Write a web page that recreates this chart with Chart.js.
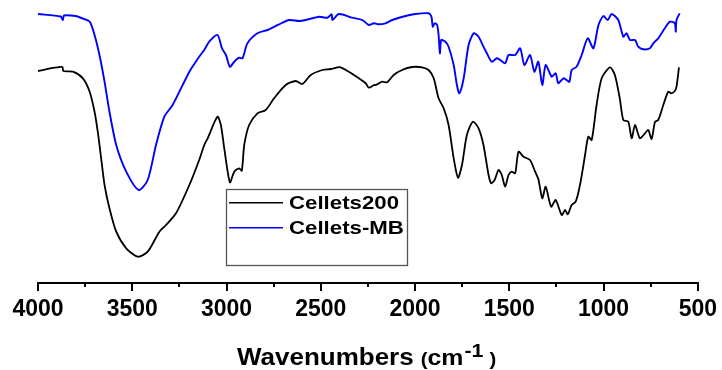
<!DOCTYPE html>
<html>
<head>
<meta charset="utf-8">
<script src="https://cdn.jsdelivr.net/npm/chart.js@4/dist/chart.umd.min.js"></script>
<style>
  body { margin: 0; background: #fff; }
  #wrap { width: 722px; height: 370px; }
</style>
</head>
<body>
<div id="wrap"><canvas id="ftir" width="722" height="370"></canvas></div>
<script>
// Wavenumbers (cm-1) and transmittance (a.u.)
const wnCellets200 = [4000, 3912, 3870, 3866, 3815, 3762, 3726, 3700, 3683, 3665, 3647, 3621, 3585, 3532, 3471, 3418, 3356, 3321, 3268, 3197,
  3145, 3118, 3100, 3048, 3030, 3012, 2982, 2959, 2933, 2919, 2906, 2880, 2836, 2792, 2748, 2686, 2633, 2598, 2553, 2492,
  2448, 2395, 2324, 2262, 2245, 2218, 2209, 2174, 2148, 2113, 2069, 2016, 1963, 1928, 1901, 1875, 1848, 1822, 1795, 1772,
  1751, 1725, 1693, 1663, 1637, 1610, 1596, 1578, 1557, 1540, 1522, 1504, 1487, 1469, 1451, 1425, 1390, 1363, 1346, 1325,
  1307, 1278, 1254, 1222, 1204, 1190, 1169, 1148, 1125, 1098, 1081, 1063, 1037, 1010, 966, 940, 914, 895, 869, 851,
  833, 807, 780, 763, 745, 727, 710, 683, 657, 640, 622, 613, 600];
const tCellets200 = [212, 215.3, 216, 212, 211.3, 204.7, 191.3, 171.3, 151.3, 124.7, 98, 74.7, 51.3, 34.7, 26.3, 31.3, 51.3, 58, 69.7, 98,
  123, 138, 144.7, 166.3, 158, 134.7, 100.7, 111.3, 114.7, 112.3, 138, 158, 169.7, 173, 184.7, 198, 202, 199, 208, 213,
  214, 215.7, 208, 199.7, 195.3, 198, 198, 201.3, 200.7, 208, 213, 216, 215.7, 213, 204.7, 184.7, 174.7, 158, 124.7, 105.3,
  118, 148, 161.3, 154.7, 138, 108, 99.7, 103, 113, 108, 96.3, 108, 111.3, 109.7, 131.3, 126.3, 123, 111.3, 104, 84.7,
  96.3, 76.3, 83, 68, 73, 68.7, 78, 81.3, 98, 128, 146.3, 143, 178, 204.7, 215.7, 208, 184.7, 163, 161.3, 144.7,
  158, 144.7, 149.7, 153, 144, 161.3, 163, 178, 191.3, 189.7, 192, 196.3, 215.7];

const wnCelletsMB = [4000, 3880, 3868, 3862, 3800, 3770, 3726, 3700, 3674, 3647, 3621, 3585, 3532, 3466, 3418, 3374, 3330, 3286, 3197, 3145,
  3118, 3092, 3048, 3024, 3003, 2982, 2959, 2933, 2915, 2889, 2836, 2783, 2721, 2668, 2615, 2580, 2509, 2465, 2442, 2438,
  2404, 2333, 2280, 2245, 2218, 2192, 2157, 2121, 2051, 1998, 1928, 1913, 1906, 1896, 1883, 1875, 1868, 1861, 1839, 1822,
  1795, 1778, 1765, 1742, 1716, 1689, 1663, 1637, 1619, 1593, 1566, 1548, 1522, 1504, 1469, 1442, 1420, 1390, 1367, 1346,
  1325, 1307, 1275, 1254, 1240, 1213, 1196, 1181, 1169, 1143, 1116, 1084, 1054, 1027, 1001, 978, 957, 922, 895, 878,
  860, 833, 816, 790, 754, 736, 710, 675, 648, 622, 617, 613, 596];
const tCelletsMB = [269, 266.5, 263, 267.5, 267, 265, 261.3, 248, 228, 201.3, 171.3, 138, 111.3, 93, 103, 138, 166.3, 178, 211.3, 226.3,
  233, 241.3, 248, 234.7, 228, 216.3, 221.3, 225.3, 224.7, 239.7, 249.7, 253, 258.7, 263, 262, 263, 266.3, 265.3, 268.7, 263,
  269, 265.3, 263, 258, 259.7, 258.7, 259.7, 263, 267, 269, 269.7, 266.3, 256.3, 259.7, 258, 248, 229.7, 243, 241.3, 236.3,
  218, 198, 189.7, 204.7, 238, 249.7, 246.3, 236.3, 229.7, 221.3, 224.7, 223, 219.7, 228, 228, 234.7, 218, 228, 211.3, 221.3,
  198, 218, 206.3, 209.7, 199.7, 204.7, 203, 201.3, 213, 216.3, 228, 244.7, 234.7, 258, 267, 263, 269, 263, 246.3, 249.7,
  243, 243, 236.3, 233.7, 234.7, 239.7, 244.7, 254.7, 261.3, 259.7, 251.3, 263, 269.7];

const seriesNames = ['Cellets200', 'Cellets-MB'];
const seriesColors = ['#000000', '#0000ff'];
const majorTicks = [4000, 3500, 3000, 2500, 2000, 1500, 1000, 500];
const minorTicks = [3750, 3250, 2750, 2250, 1750, 1250, 750];

const FONT = "'Liberation Sans', Arial, sans-serif";

function toPoints(xs, ys) {
  return xs.map((x, i) => ({ x: x, y: ys[i] }));
}

// text drawn a bit wider than the font, like the original export
function stretchText(ctx, txt, x, y, font, sx) {
  ctx.save();
  ctx.font = font;
  ctx.translate(x, y);
  ctx.scale(sx, 1);
  ctx.fillText(txt, 0, 0);
  const w = ctx.measureText(txt).width * sx;
  ctx.restore();
  return w;
}

const extras = {
  id: 'extras',
  afterDraw(chart) {
    const ctx = chart.ctx;
    const xs = chart.scales.x;
    const bottom = chart.chartArea.bottom;

    // minor ticks
    ctx.save();
    ctx.strokeStyle = '#000';
    ctx.lineWidth = 2;
    minorTicks.forEach(v => {
      const px = Math.round(xs.getPixelForValue(v));
      ctx.beginPath();
      ctx.moveTo(px, bottom);
      ctx.lineTo(px, bottom + 4);
      ctx.stroke();
    });
    ctx.restore();

    // axis title with superscript
    ctx.save();
    ctx.fillStyle = '#000';
    ctx.textBaseline = 'alphabetic';
    let x = 237;
    const base = 365;
    x += stretchText(ctx, 'Wavenumbers', x, base, 'bold 23px ' + FONT, 1.13) + 7;
    x += stretchText(ctx, '(', x, base, 'bold 18px ' + FONT, 1.13);
    x += stretchText(ctx, 'cm', x, base, 'bold 22px ' + FONT, 1.13) + 1;
    x += stretchText(ctx, '-1', x, base - 8, 'bold 19px ' + FONT, 1.13) + 6;
    stretchText(ctx, ')', x, base, 'bold 18px ' + FONT, 1.13);
    ctx.restore();

    // legend box
    ctx.save();
    ctx.fillStyle = '#fff';
    ctx.fillRect(226.5, 189.5, 181, 76);
    ctx.strokeStyle = '#555';
    ctx.lineWidth = 1.3;
    ctx.strokeRect(226.5, 189.5, 181, 76);
    chart.data.datasets.forEach((ds, i) => {
      const ry = 202.7 + i * 25;
      ctx.strokeStyle = ds.borderColor;
      ctx.lineWidth = 1.5;
      ctx.beginPath();
      ctx.moveTo(229, ry);
      ctx.lineTo(283, ry);
      ctx.stroke();
      ctx.fillStyle = '#000';
      stretchText(ctx, ds.label, 289, ry + 6.7, 'bold 19px ' + FONT, 1.17);
    });
    ctx.restore();
  }
};

new Chart(document.getElementById('ftir').getContext('2d'), {
  type: 'line',
  data: {
    datasets: [
      {
        label: seriesNames[0],
        data: toPoints(wnCellets200, tCellets200),
        borderColor: seriesColors[0],
        borderWidth: 1.8,
        pointRadius: 0,
        tension: 0.25,
        fill: false
      },
      {
        label: seriesNames[1],
        data: toPoints(wnCelletsMB, tCelletsMB),
        borderColor: seriesColors[1],
        borderWidth: 1.9,
        pointRadius: 0,
        tension: 0.25,
        fill: false
      }
    ]
  },
  options: {
    responsive: false,
    animation: false,
    layout: { padding: { left: 38, right: 22, top: 0, bottom: 0 } },
    plugins: {
      legend: { display: false },
      tooltip: { enabled: false }
    },
    scales: {
      x: {
        type: 'linear',
        reverse: true,
        min: 500,
        max: 4000,
        afterBuildTicks: scale => {
          scale.ticks = majorTicks.map(v => ({ value: v }));
        },
        afterFit: scale => { scale.height = 87; },
        ticks: {
          color: '#000',
          padding: 5,
          maxRotation: 0,
          autoSkip: false,
          font: { family: FONT, size: 23, weight: 'bold' },
          callback: v => String(v)
        },
        grid: {
          drawOnChartArea: false,
          drawTicks: true,
          tickLength: 8,
          color: '#000',
          lineWidth: 2
        },
        border: { display: true, color: '#000', width: 2 }
      },
      y: {
        display: false,
        min: 0,
        max: 283
      }
    }
  },
  plugins: [extras]
});
</script>
</body>
</html>
